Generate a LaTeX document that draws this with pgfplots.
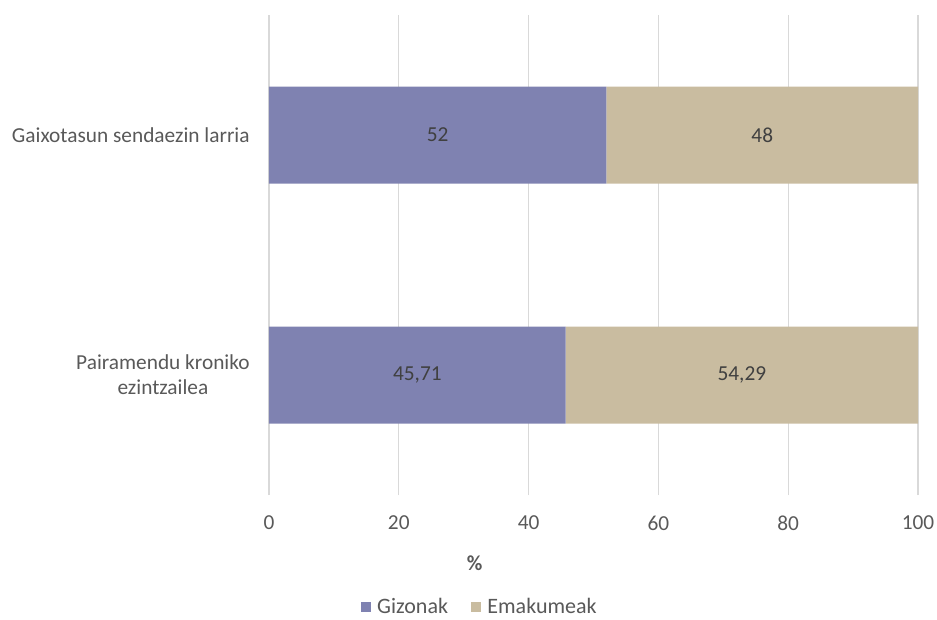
\documentclass[border=0pt]{standalone}
\usepackage{pgfplots}
\pgfplotsset{compat=1.18}
\usepackage{fontspec}
\setmainfont{Carlito}
\definecolor{giz}{RGB}{127,130,177}
\definecolor{ema}{RGB}{201,188,160}
\definecolor{gridc}{RGB}{217,217,217}
\definecolor{txt}{RGB}{89,89,89}
\definecolor{lbl}{RGB}{64,64,64}
\begin{document}
\begin{tikzpicture}
\useasboundingbox (-201.75pt,-93pt) rectangle (501pt,371.25pt);
\begin{axis}[
  scale only axis, width=486.75pt, height=360pt,
  xmin=0, xmax=100, ymin=-0.5, ymax=1.5,
  xbar stacked, bar width=72.75pt,
  axis line style={draw=none},
  xtick={0,20,...,100}, ytick={0,1},
  yticklabels={{Pairamendu kroniko\\ezintzailea},{Gaixotasun sendaezin larria}},
  major tick length=0pt,
  xmajorgrids, grid style={gridc, line width=0.8pt},
  /pgf/number format/assume math mode=true,
  tick label style={text=txt, font={\fontsize{16}{18.75}\selectfont}},
  yticklabel style={align=center, xshift=-11pt},
  xticklabel style={yshift=-12pt},
  legend style={draw=none, at={(0.325,-0.233)}, anchor=center, legend columns=2,
    font={\fontsize{16.5}{18}\selectfont}, text=txt,
    /tikz/every odd column/.append style={column sep=3pt},
    /tikz/every even column/.append style={column sep=15pt}},
  legend image code/.code={\fill[#1] (0pt,-3.75pt) rectangle (7.5pt,3.75pt);},
]
\addplot[fill=giz, draw=none] coordinates {(45.71,0) (52,1)};
\addlegendentry{Gizonak}
\addplot[fill=ema, draw=none] coordinates {(54.29,0) (48,1)};
\addlegendentry{Emakumeak}
\end{axis}
\begin{axis}[
  scale only axis, width=486.75pt, height=360pt,
  xmin=0, xmax=100, ymin=-0.5, ymax=1.5, hide axis, clip=false,
]
\addplot[draw=none, mark=none, nodes near coords, point meta=explicit symbolic,
  nodes near coords style={anchor=center, text=lbl, font={\fontsize{16}{17}\selectfont}}]
  coordinates {(22.855,0) [45,71] (72.855,0) [54,29] (26,1) [52] (76,1) [48]};
\node[text=txt, font={\fontsize{16}{18}\selectfont\bfseries}] at (axis description cs:0.317,-0.142) {\%};
\end{axis}
\end{tikzpicture}
\end{document}
